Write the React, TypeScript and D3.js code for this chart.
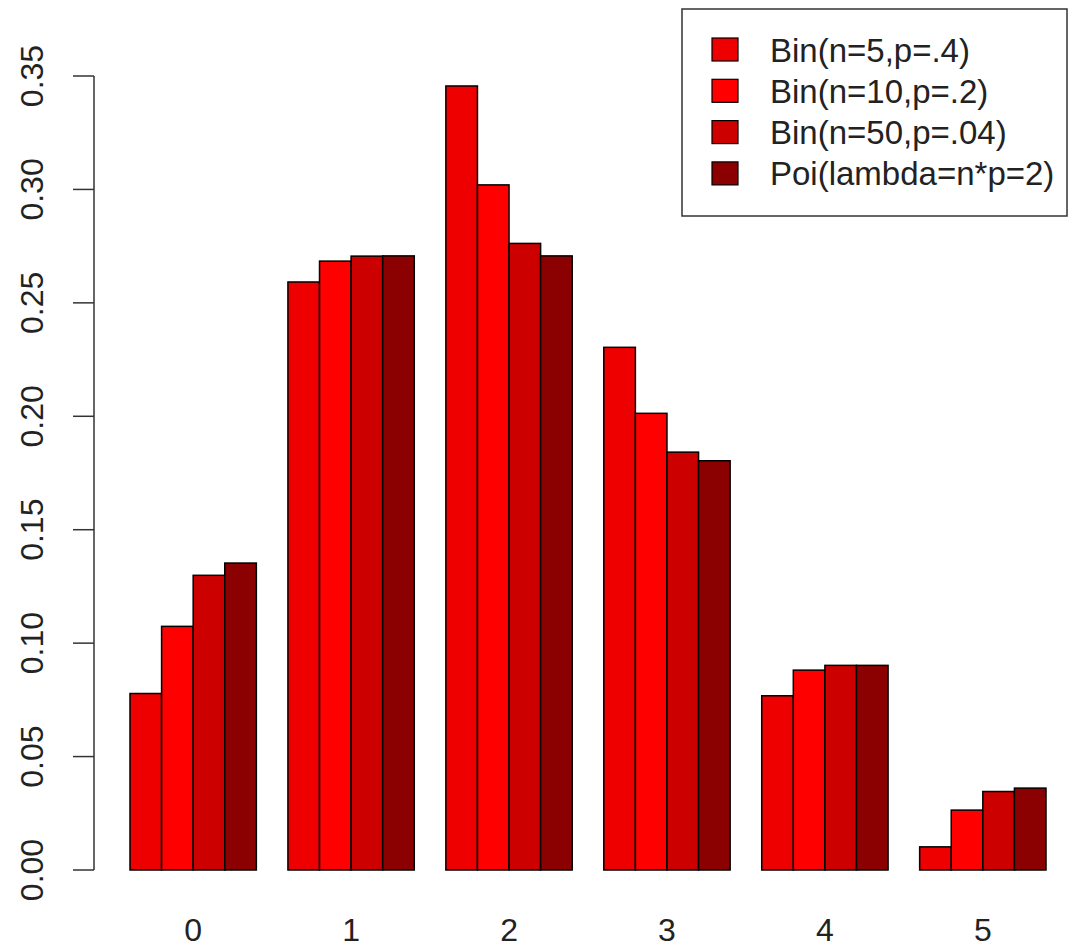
import * as d3 from "d3";
import { useMemo } from "react";

const categories = ["0", "1", "2", "3", "4", "5"];
const seriesNames = [
  "Bin(n=5,p=.4)",
  "Bin(n=10,p=.2)",
  "Bin(n=50,p=.04)",
  "Poi(lambda=n*p=2)",
];
const binom5 = [0.0778, 0.2592, 0.3456, 0.2304, 0.0768, 0.0102];
const binom10 = [0.1074, 0.2684, 0.302, 0.2013, 0.0881, 0.0264];
const binom50 = [0.1299, 0.2706, 0.2762, 0.1842, 0.0902, 0.0346];
const poisson2 = [0.1353, 0.2707, 0.2707, 0.1804, 0.0902, 0.0361];
const yTicks = [0, 0.05, 0.1, 0.15, 0.2, 0.25, 0.3, 0.35];
const colors = ["#EE0000", "#FF0000", "#CD0000", "#8B0000"];

const width = 1068;
const height = 949;
const font = "'Liberation Sans', Arial, Helvetica, sans-serif";
const fontSize = 32;

export default function App() {
  const series = [binom5, binom10, binom50, poisson2];

  const x0 = useMemo(
    () =>
      d3.scaleBand().domain(categories).range([130, 1046]).paddingInner(0.2).paddingOuter(0),
    []
  );
  const x1 = useMemo(
    () =>
      d3
        .scaleBand()
        .domain(seriesNames)
        .range([0, x0.bandwidth()])
        .padding(0),
    [x0]
  );
  const y = useMemo(() => d3.scaleLinear().domain([0, 0.35]).range([870, 76]), []);

  const axisX = 94;

  return (
    <svg
      width={width}
      height={height}
      style={{ position: "absolute", left: 0, top: 0, background: "#fff" }}
      fontFamily={font}
    >
      {/* bars */}
      {categories.map((cat, i) => (
        <g key={cat} transform={`translate(${x0(cat)},0)`}>
          {seriesNames.map((name, j) => {
            const v = series[j][i];
            return (
              <rect
                key={name}
                x={x1(name)}
                y={y(v)}
                width={x1.bandwidth()}
                height={y(0) - y(v)}
                fill={colors[j]}
                stroke="#000"
                strokeWidth={1.5}
              />
            );
          })}
          <text
            x={x0.bandwidth() / 2}
            y={941}
            textAnchor="middle"
            fontSize={fontSize}
            fill="#222"
          >
            {cat}
          </text>
        </g>
      ))}

      {/* y axis */}
      <g>
        <line
          x1={axisX}
          x2={axisX}
          y1={y(0.35)}
          y2={y(0)}
          stroke="#333"
          strokeWidth={1.5}
        />
        {yTicks.map((t) => (
          <g key={t}>
            <line
              x1={axisX - 21}
              x2={axisX}
              y1={y(t)}
              y2={y(t)}
              stroke="#333"
              strokeWidth={1.5}
            />
            <text
              transform={`translate(43,${y(t)}) rotate(-90)`}
              textAnchor="middle"
              fontSize={fontSize}
              fill="#222"
            >
              {t.toFixed(2)}
            </text>
          </g>
        ))}
      </g>

      {/* legend */}
      <g>
        <rect
          x={682}
          y={9}
          width={385}
          height={207}
          fill="#fff"
          stroke="#333"
          strokeWidth={1.5}
        />
        {seriesNames.map((name, j) => {
          const cy = 49.5 + j * 41.3;
          return (
            <g key={name}>
              <rect
                x={712}
                y={cy - 11.5}
                width={26}
                height={23}
                fill={colors[j]}
                stroke="#000"
                strokeWidth={1.2}
              />
              <text
                x={770}
                y={cy + 12}
                fontSize={33}
                fill="#222"
              >
                {name}
              </text>
            </g>
          );
        })}
      </g>
    </svg>
  );
}
